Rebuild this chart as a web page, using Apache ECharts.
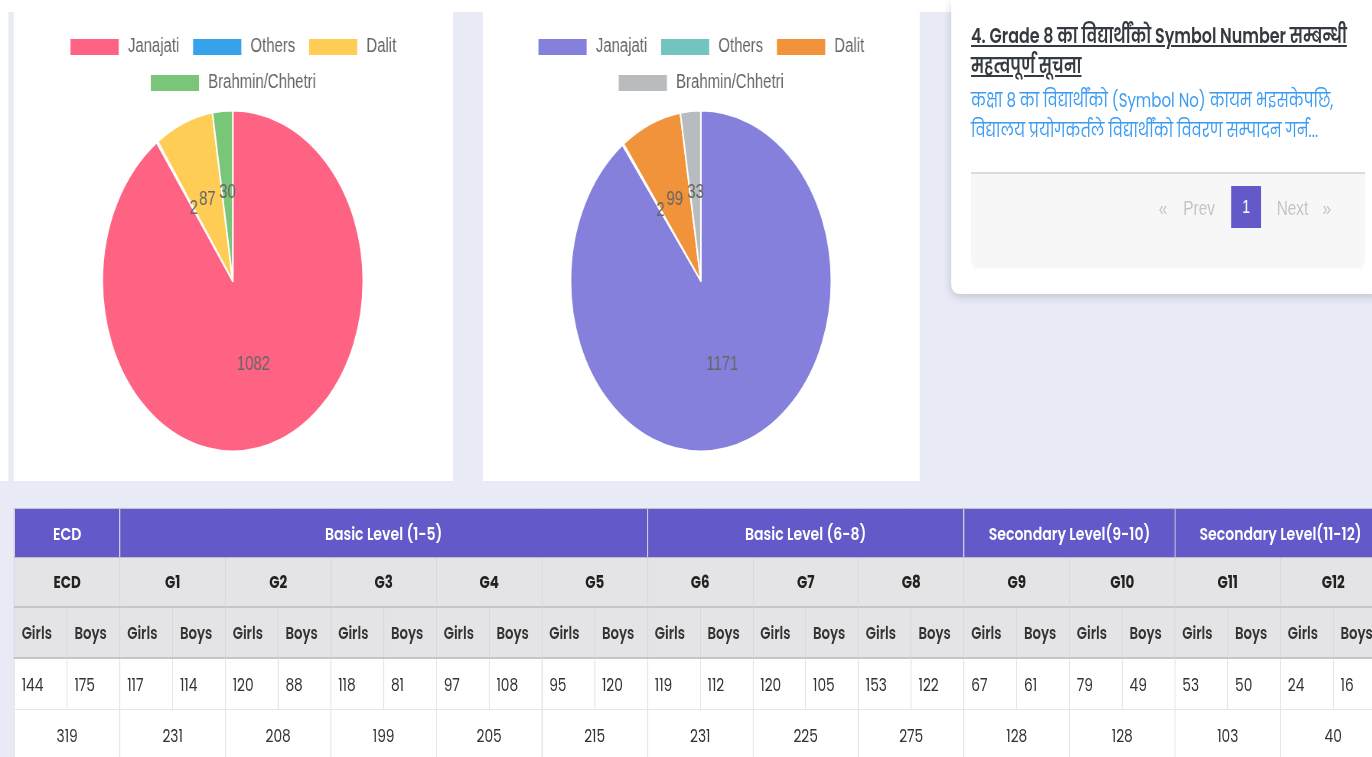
<!DOCTYPE html>
<html>
<head>
<meta charset="utf-8">
<script src="https://cdn.jsdelivr.net/npm/echarts@6/dist/echarts.min.js"></script>
<style>
  html,body{margin:0;padding:0;}
  body{width:1372px;height:757px;overflow:hidden;background:#e8eaf6;position:relative;}
  #page{position:absolute;left:0;top:0;width:1793px;height:757px;transform:scaleX(0.7652);transform-origin:0 0;font-family:'Poppins','Open Sans','Noto Sans Devanagari','Lohit Devanagari',sans-serif;}
  .card{position:absolute;background:#fff;}
  .chart{position:absolute;left:0;top:0;width:100%;height:100%;}
  #news{position:absolute;left:1243px;top:0;width:560px;height:294px;background:#fff;border-radius:0 0 0 10px;box-shadow:0 3px 10px rgba(0,0,0,0.16);}
  #news .title{position:absolute;left:26px;top:21px;width:530px;font-size:20.8px;line-height:30px;font-weight:600;color:#343a40;text-decoration:underline;white-space:nowrap;}
  #news .desc{position:absolute;left:26px;top:86px;width:530px;font-size:19.6px;line-height:29.5px;color:#3b9cf2;white-space:nowrap;}
  #pager{position:absolute;left:26px;top:172px;width:515px;height:96px;background:#f7f7f7;border-top:2px solid #dcdcdc;box-sizing:border-box;border-radius:0 0 8px 8px;}
  #pager span{position:absolute;top:34px;transform:translate(-50%,-50%);color:#c4c4c4;font-size:20px;font-family:'Liberation Sans',Arial,sans-serif;}
  #pager .active{position:absolute;left:340px;top:12px;width:39px;height:42px;background:#6459c9;color:#fff;font-size:18px;line-height:42px;text-align:center;font-family:'Liberation Sans',Arial,sans-serif;}
  table{position:absolute;left:18.3px;top:508px;border-collapse:collapse;table-layout:fixed;width:1792.7px;font-size:18px;}
  td{border:1px solid #d3d3d6;padding:0;overflow:hidden;white-space:nowrap;color:#333;}
  tr.lv td{background:#6459c9;color:#fff;font-weight:600;font-size:18.4px;text-align:center;height:48px;border-color:#bdbdc8;border-top:1px solid #c0c0c8;}
  tr.gr td{background:#e4e4e6;color:#222;font-weight:700;font-size:17.6px;text-align:center;height:48px;border-bottom:2px solid #c6c6ca;}
  tr.sx td{background:#e4e4e6;color:#333;font-weight:600;font-size:17.4px;text-align:left;padding-left:9px;height:49px;border-bottom:2px solid #c6c6ca;}
  tr.val td{background:#fff;text-align:left;padding-left:9px;height:50px;border-color:#e6e6e8;}
  tr.tot td{background:#fff;text-align:center;height:50px;border-color:#e6e6e8;}
</style>
</head>
<body>
<div id="page">
  <div style="position:absolute;left:0;top:0;width:1793px;height:12px;background:#fff"></div>
  <div style="position:absolute;left:0;top:0;width:10.5px;height:481px;background:#fff"></div>
  <div class="card" style="left:18.3px;top:12px;width:573.7px;height:469px"><div id="c1" class="chart"></div></div>
  <div class="card" style="left:631.2px;top:12px;width:571.1px;height:469px"><div id="c2" class="chart"></div></div>
  <div id="news">
    <div class="title">4. Grade 8 का विद्यार्थींको Symbol Number सम्बन्धी<br>महत्वपूर्ण सूचना</div>
    <div class="desc">कक्षा 8 का विद्यार्थींको (Symbol No) कायम भइसकेपछि,<br>विद्यालय प्रयोगकर्तले विद्यार्थींको विवरण सम्पादन गर्न...</div>
    <div id="pager">
      <span style="left:251px">«</span>
      <span style="left:298px">Prev</span>
      <div class="active">1</div>
      <span style="left:420px">Next</span>
      <span style="left:465px">»</span>
    </div>
  </div>
  <table id="tbl"></table>
</div>
<script>
// ---- data ----
const groups = ['Janajati', 'Others', 'Dalit', 'Brahmin/Chhetri'];
const pie1Values = [1082, 2, 87, 30];
const pie2Values = [1171, 2, 99, 33];

const levels = ['ECD', 'Basic Level (1-5)', 'Basic Level (6-8)', 'Secondary Level(9-10)', 'Secondary Level(11-12)'];
const levelSpans = [1, 5, 3, 2, 2];
const grades = ['ECD', 'G1', 'G2', 'G3', 'G4', 'G5', 'G6', 'G7', 'G8', 'G9', 'G10', 'G11', 'G12'];
const girls = [144, 117, 120, 118, 97, 95, 119, 120, 153, 67, 79, 53, 24];
const boys  = [175, 114, 88, 81, 108, 120, 112, 105, 122, 61, 49, 50, 16];
const totals = [319, 231, 208, 199, 205, 215, 231, 225, 275, 128, 128, 103, 40];

// ---- styles ----
const palette1 = ['#ff6384', '#36a2eb', '#ffcd56', '#79c679'];
const palette2 = ['#8580db', '#73c4c1', '#f0933a', '#b9bcbf'];

function pieOption(values, colors, cx) {
  const legendCommon = {
    left: 'center', icon: 'rect', itemWidth: 63, itemHeight: 16, itemGap: 18, padding: 0,
    itemStyle: { borderWidth: 0 },
    textStyle: { fontSize: 19.5, color: '#666', fontFamily: 'Liberation Sans, Arial, sans-serif', padding: [0, 0, 0, 7], lineHeight: 16 }
  };
  return {
    animation: false,
    color: colors,
    legend: [
      Object.assign({ top: 25, data: groups.slice(0, 3) }, legendCommon),
      Object.assign({ top: 61, data: groups.slice(3) }, legendCommon)
    ],
    series: [{
      type: 'pie',
      center: [cx, 269],
      radius: 170.5,
      startAngle: 90,
      clockwise: true,
      avoidLabelOverlap: false,
      itemStyle: { borderColor: '#fff', borderWidth: 2 },
      label: {
        show: true, position: 'inside', formatter: '{c}',
        fontSize: 19.5, color: '#666', fontFamily: 'Liberation Sans, Arial, sans-serif',
        textBorderWidth: 0
      },
      labelLine: { show: false },
      emphasis: { disabled: true },
      data: groups.map((g, i) => ({ name: g, value: values[i] }))
    }]
  };
}

echarts.init(document.getElementById('c1')).setOption(pieOption(pie1Values, palette1, 286.2));
echarts.init(document.getElementById('c2')).setOption(pieOption(pie2Values, palette2, 285));

// ---- table ----
const tbl = document.getElementById('tbl');
let html = '<colgroup>' + '<col style="width:68.95px">'.repeat(grades.length * 2) + '</colgroup>';
html += '<tr class="lv">' + levels.map((l, i) => `<td colspan="${levelSpans[i] * 2}">${l}</td>`).join('') + '</tr>';
html += '<tr class="gr">' + grades.map(g => `<td colspan="2">${g}</td>`).join('') + '</tr>';
html += '<tr class="sx">' + grades.map(() => '<td>Girls</td><td>Boys</td>').join('') + '</tr>';
html += '<tr class="val">' + grades.map((g, i) => `<td>${girls[i]}</td><td>${boys[i]}</td>`).join('') + '</tr>';
html += '<tr class="tot">' + grades.map((g, i) => `<td colspan="2">${totals[i]}</td>`).join('') + '</tr>';
tbl.innerHTML = html;
</script>
</body>
</html>
